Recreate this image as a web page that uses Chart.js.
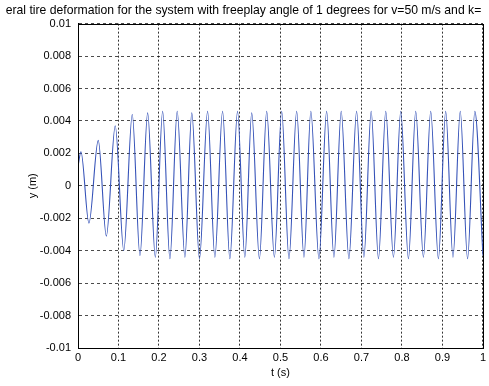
<!DOCTYPE html>
<html>
<head>
<meta charset="utf-8">
<script src="https://cdn.jsdelivr.net/npm/chart.js@4/dist/chart.umd.min.js"></script>
<style>
    html, body { margin: 0; padding: 0; background: #fff; }
    #wrap { width: 489px; height: 386px; }
</style>
</head>
<body>
<div id="wrap"><canvas id="tire-chart"></canvas></div>
<script>
// times of the turning points of the response (s)
const tPoints = [
    0, 0.0073, 0.027, 0.050, 0.070, 0.092, 0.113, 0.134, 0.153,
    0.172, 0.191, 0.209, 0.227, 0.245, 0.264, 0.281, 0.300,
    0.320, 0.338, 0.357, 0.375, 0.394, 0.412, 0.429, 0.448,
    0.466, 0.485, 0.503, 0.521, 0.540, 0.558, 0.575, 0.595,
    0.614, 0.632, 0.650, 0.669, 0.688, 0.706, 0.724, 0.742,
    0.760, 0.779, 0.797, 0.816, 0.834, 0.853, 0.871, 0.890,
    0.908, 0.926, 0.944, 0.962, 0.980, 1.0
];
// lateral deformation at those points (m)
const yPoints = [
    0.0012, 0.0021, -0.0023, 0.0028, -0.0031, 0.0037, -0.0040, 0.0044, -0.0043,
    0.0045, -0.0044, 0.0046, -0.0045, 0.0046, -0.0044, 0.0045, -0.0045,
    0.0046, -0.0044, 0.0046, -0.0045, 0.0046, -0.0044, 0.0045, -0.0045,
    0.0046, -0.0044, 0.0046, -0.0045, 0.0046, -0.0044, 0.0046, -0.0045,
    0.0046, -0.0044, 0.0046, -0.0045, 0.0046, -0.0044, 0.0046, -0.0045,
    0.0046, -0.0044, 0.0046, -0.0045, 0.0046, -0.0044, 0.0046, -0.0045,
    0.0046, -0.0044, 0.0046, -0.0045, 0.0046, -0.0043
];

const xTicks = [0, 0.1, 0.2, 0.3, 0.4, 0.5, 0.6, 0.7, 0.8, 0.9, 1];
const yTicks = [-0.01, -0.008, -0.006, -0.004, -0.002, 0, 0.002, 0.004, 0.006, 0.008, 0.01];

const titleText = 'eral tire deformation for the system with freeplay angle of 1 degrees for v=50 m/s and k=';

Chart.defaults.font.family = "'Liberation Sans', Arial, sans-serif";
Chart.defaults.font.size = 11;
Chart.defaults.color = '#000';

let pts = [];
for (let i = 0; i < tPoints.length; i++) {
    pts.push({ x: tPoints[i], y: yPoints[i] });
}

// box round the axes, like matlab
const frame = {
    id: 'frame',
    afterDatasetsDraw(chart) {
        const a = chart.chartArea;
        const ctx = chart.ctx;
        ctx.save();
        ctx.strokeStyle = '#000';
        ctx.lineWidth = 1;
        ctx.strokeRect(Math.round(a.left) + 0.5, Math.round(a.top) + 0.5,
            Math.round(a.right - a.left), Math.round(a.bottom - a.top));
        ctx.restore();
    }
};

let config = {
    type: 'line',
    data: {
        datasets: [{
            data: pts,
            borderColor: '#3552b8',
            borderWidth: 1.1,
            pointRadius: 0,
            fill: false,
            cubicInterpolationMode: 'monotone'
        }]
    },
    options: {
        animation: false,
        responsive: true,
        maintainAspectRatio: false,
        layout: { padding: { left: 0, right: 2, top: 0, bottom: 0 } },
        plugins: {
            legend: { display: false },
            tooltip: { enabled: false },
            title: {
                display: true,
                text: titleText,
                font: { size: 12.2, weight: 'normal' },
                color: '#000',
                padding: { top: 3, bottom: 6 }
            }
        },
        scales: {
            x: {
                type: 'linear',
                min: 0,
                max: 1,
                afterBuildTicks: (s) => { s.ticks = xTicks.map(v => ({ value: v })); },
                afterFit: (s) => { s.height = 38; },
                grid: { color: 'rgba(0,0,0,0.8)', lineWidth: 1, drawTicks: false },
                border: { display: true, color: '#000', dash: [2, 2] },
                ticks: {
                    padding: 3,
                    maxRotation: 0,
                    callback: (v) => String(+v.toFixed(1))
                },
                title: { display: true, text: 't (s)', padding: { top: 0, bottom: 6 } }
            },
            y: {
                type: 'linear',
                min: -0.01,
                max: 0.01,
                afterBuildTicks: (s) => { s.ticks = yTicks.map(v => ({ value: v })); },
                afterFit: (s) => { s.width = 78; },
                grid: { color: 'rgba(0,0,0,0.7)', lineWidth: 1, drawTicks: false },
                border: { display: true, color: '#000', dash: [3, 3] },
                ticks: {
                    padding: 7,
                    callback: (v) => String(+v.toFixed(3))
                },
                title: { display: true, text: 'y (m)', padding: { top: 26, bottom: 0 } }
            }
        }
    },
    plugins: [frame]
};

let ctx = document.getElementById('tire-chart').getContext('2d');
window.tireChart = new Chart(ctx, config);
</script>
</body>
</html>
